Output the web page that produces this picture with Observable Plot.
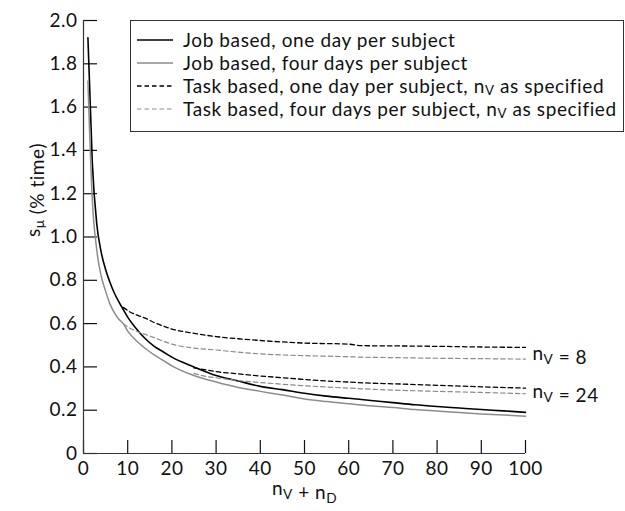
<!DOCTYPE html>
<html>
<head>
<meta charset="utf-8">
<script src="https://cdn.jsdelivr.net/npm/d3@7"></script>
<script src="https://cdn.jsdelivr.net/npm/@observablehq/plot@0.6"></script>
<style>
  html, body { margin: 0; padding: 0; background: #fff; }
  #wrap { position: relative; width: 625px; height: 511px; }
  #legend { position: absolute; left: 130px; top: 20px; width: 494px; height: 112px;
    border: 1px solid #333; background: #fff; box-sizing: border-box;
    font-family: Lato, sans-serif; font-size: 19px; letter-spacing: 0.6px; color: #111; padding-top: 7px; }
  .row { height: 23px; line-height: 1; display: flex; align-items: center; white-space: nowrap; }
  .row svg { margin-left: 6px; margin-right: 10px; flex: none; }
  .sub { font-size: 0.7em; position: relative; top: 0.18em; line-height: 0.8; display: inline-block; }
</style>
</head>
<body>
<div id="wrap"><div id="chart"></div><div id="legend"></div></div>
<script>
// Job based curves (n = nV + nD)
const nJob = [1, 2, 3, 4, 5, 6, 7, 8, 9, 10, 12, 14, 16, 18, 20, 25, 30, 35, 40, 45, 50, 55, 60, 65, 70, 75, 80, 85, 90, 95, 100];
const jobOneDay   = [1.92, 1.34, 1.06, 0.93, 0.85, 0.79, 0.74, 0.70, 0.665, 0.63, 0.575, 0.53, 0.495, 0.47, 0.445, 0.40, 0.36, 0.335, 0.31, 0.295, 0.278, 0.265, 0.255, 0.245, 0.235, 0.225, 0.217, 0.21, 0.203, 0.197, 0.19];
const jobFourDays = [1.72, 1.17, 0.94, 0.82, 0.75, 0.69, 0.65, 0.62, 0.60, 0.565, 0.52, 0.485, 0.455, 0.43, 0.405, 0.36, 0.33, 0.305, 0.287, 0.27, 0.252, 0.24, 0.23, 0.22, 0.212, 0.203, 0.196, 0.189, 0.183, 0.178, 0.172];
// Task based, nV = 8
const nTask8 = [9, 10, 12, 14, 16, 20, 25, 30, 35, 40, 50, 60, 63, 70, 80, 90, 100];
const task8OneDay   = [0.675, 0.66, 0.64, 0.625, 0.605, 0.575, 0.555, 0.54, 0.53, 0.522, 0.51, 0.505, 0.498, 0.497, 0.495, 0.492, 0.49];
const task8FourDays = [0.60, 0.585, 0.565, 0.55, 0.535, 0.505, 0.487, 0.478, 0.468, 0.46, 0.452, 0.447, 0.445, 0.443, 0.44, 0.438, 0.436];
// Task based, nV = 24
const nTask24 = [25, 28, 30, 35, 40, 45, 50, 55, 60, 65, 70, 80, 90, 100];
const task24OneDay   = [0.395, 0.385, 0.378, 0.368, 0.358, 0.35, 0.342, 0.335, 0.33, 0.325, 0.322, 0.315, 0.308, 0.302];
const task24FourDays = [0.37, 0.355, 0.35, 0.337, 0.328, 0.32, 0.313, 0.307, 0.302, 0.297, 0.293, 0.287, 0.282, 0.276];

const xTicks = [0, 10, 20, 30, 40, 50, 60, 70, 80, 90, 100];
const yTicks = [0, 0.2, 0.4, 0.6, 0.8, 1.0, 1.2, 1.4, 1.6, 1.8, 2.0];
const rightLabels = ["n_V = 8", "n_V = 24"];
const rightLabelY = [0.46, 0.285];

const seriesNames = [
  "Job based, one day per subject",
  "Job based, four days per subject",
  "Task based, one day per subject, n_V as specified",
  "Task based, four days per subject, n_V as specified"
];
const seriesColors = ["#000", "#8c8c8c", "#000", "#8c8c8c"];
const seriesDash = [null, null, "4.5,3", "4.5,3"];
const seriesWidth = [1.6, 1.5, 1.3, 1.2];

function toRows(ns, vals) { return ns.map((n, i) => ({n, v: vals[i]})); }
const lines = [
  {rows: toRows(nJob, jobOneDay), s: 0},
  {rows: toRows(nJob, jobFourDays), s: 1},
  {rows: toRows(nTask8, task8OneDay), s: 2},
  {rows: toRows(nTask8, task8FourDays), s: 3},
  {rows: toRows(nTask24, task24OneDay), s: 2},
  {rows: toRows(nTask24, task24FourDays), s: 3}
];

const FONT = "Lato, sans-serif";
const plot = Plot.plot({
  width: 625, height: 511,
  marginLeft: 83, marginRight: 100, marginTop: 20, marginBottom: 58,
  style: {fontFamily: FONT, fontSize: "19px", color: "#111", background: "#fff", overflow: "visible", letterSpacing: "0.5px"},
  x: {domain: [0, 100]},
  y: {domain: [0, 2]},
  marks: [
    Plot.axisX({ticks: xTicks, tickSize: -13, tickPadding: 21, label: null, stroke: "#111", strokeWidth: 1.2, fontSize: 19}),
    Plot.axisY({ticks: yTicks, tickSize: -14, tickPadding: 20, label: null, stroke: "#111", strokeWidth: 1.2, fontSize: 19,
      tickFormat: d => d === 0 ? "0" : d.toFixed(1)}),
    Plot.ruleX([0], {y1: 0, y2: 2, stroke: "#333", strokeWidth: 1.2}),
    Plot.ruleY([0], {x1: 0, x2: 100, stroke: "#333", strokeWidth: 1.2}),
    ...lines.map(L => Plot.line(L.rows, {x: "n", y: "v", stroke: seriesColors[L.s], strokeWidth: seriesWidth[L.s],
      strokeDasharray: seriesDash[L.s], curve: "monotone-x"})),
    Plot.text(rightLabels, {x: () => 100, y: (d, i) => rightLabelY[i], text: d => d, dx: 7, textAnchor: "start", fontSize: 19}),
    Plot.text(["s_μ (% time)"], {frameAnchor: "left", dx: -50, rotate: -90, text: d => d, fontSize: 19}),
    Plot.text(["n_V + n_D"], {frameAnchor: "bottom", dy: 41, text: d => d, fontSize: 19})
  ]
});
document.getElementById("chart").appendChild(plot);

// subscripts: "_X" -> subscript X
d3.select(plot).selectAll("text").each(function() {
  const t = this.textContent;
  if (!t.includes("_")) return;
  const el = d3.select(this);
  el.text(null);
  const parts = t.split(/_(.)/);
  parts.forEach((p, i) => {
    if (!p) return;
    if (i % 2 === 1) {
      el.append("tspan").attr("font-size", "0.72em").attr("dy", "0.32em").text(p);
      el.append("tspan").attr("dy", "-0.32em").text("");
    } else {
      el.append("tspan").text(p);
    }
  });
});

// legend (HTML overlay)
const legend = d3.select("#legend");
seriesNames.forEach((name, i) => {
  const row = legend.append("div").attr("class", "row");
  const sw = row.append("svg").attr("width", 36).attr("height", 10);
  sw.append("line").attr("x1", 0).attr("x2", 36).attr("y1", 5).attr("y2", 5)
    .attr("stroke", seriesColors[i]).attr("stroke-width", seriesWidth[i])
    .attr("stroke-dasharray", seriesDash[i]);
  const span = row.append("span");
  name.split(/_(.)/).forEach((p, j) => {
    if (!p) return;
    if (j % 2 === 1) span.append("span").attr("class", "sub").text(p);
    else span.append("span").text(p);
  });
});
</script>
</body>
</html>
